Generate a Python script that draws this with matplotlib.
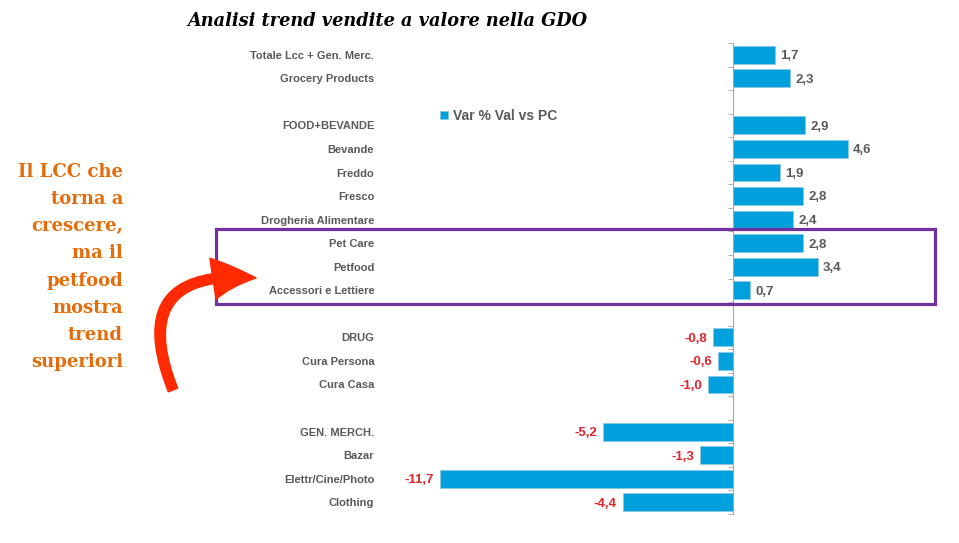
import matplotlib
matplotlib.use("Agg")
import matplotlib.pyplot as plt
import numpy as np
from matplotlib.patches import Rectangle, FancyArrowPatch

categories = ["Totale Lcc + Gen. Merc.", "Grocery Products", "",
              "FOOD+BEVANDE", "Bevande", "Freddo", "Fresco",
              "Drogheria Alimentare", "Pet Care", "Petfood",
              "Accessori e Lettiere", "",
              "DRUG", "Cura Persona", "Cura Casa", "",
              "GEN. MERCH.", "Bazar", "Elettr/Cine/Photo", "Clothing"]
var_val = [1.7, 2.3, np.nan, 2.9, 4.6, 1.9, 2.8, 2.4, 2.8, 3.4, 0.7, np.nan,
           -0.8, -0.6, -1.0, np.nan, -5.2, -1.3, -11.7, -4.4]
series_name = "Var % Val vs PC"
title = "Analisi trend vendite a valore nella GDO"
note = "Il LCC che\ntorna a\ncrescere,\nma il\npetfood\nmostra\ntrend\nsuperiori"

BLUE = "#00A0DC"
GREY = "#595959"
RED = "#E0252B"
ORANGE = "#E46C0A"
PURPLE = "#7030A0"

plt.rcParams['font.family'] = ['Liberation Sans', 'DejaVu Sans']

W, H = 959, 543
fig = plt.figure(figsize=(W / 100, H / 100), dpi=100)
ax = fig.add_axes([420 / W, 1 - 514 / H, 520 / W, 471 / H])

pos = np.arange(len(categories))
vals = np.array(var_val, dtype=float)
ax.barh(pos, vals, height=0.76, color=BLUE, edgecolor="#8FC6E0", linewidth=0.5,
        label=series_name, zorder=2)

for p, v in zip(pos, vals):
    if np.isnan(v):
        continue
    txt = f"{v:.1f}".replace(".", ",")
    if v >= 0:
        ax.annotate(txt, (v, p + 0.06), xytext=(4, 0), textcoords="offset points",
                    ha="left", va="center", fontsize=9.5, fontweight="bold", color=GREY)
    else:
        ax.annotate(txt, (v, p + 0.06), xytext=(-4, 0), textcoords="offset points",
                    ha="right", va="center", fontsize=9.5, fontweight="bold", color=RED)

ax.set_xlim(-12.5, 8.3)
ax.set_ylim(len(categories) - 0.5, -0.5)
for s in ["top", "right", "bottom"]:
    ax.spines[s].set_visible(False)
ax.spines["left"].set_position(("data", 0))
ax.spines["left"].set_color("#A6A6A6")
ax.spines["left"].set_zorder(3)
ax.set_xticks([])
ax.set_yticks(pos, categories)
ax.set_yticks(np.arange(-0.5, len(categories), 1), minor=True)
ax.tick_params(axis="y", which="major", length=0, pad=258, labelsize=8,
               labelcolor=GREY)
for lbl in ax.get_yticklabels():
    lbl.set_fontweight("bold")
ax.tick_params(axis="y", which="minor", length=3.5, color="#A6A6A6", direction="out")

fig.legend(loc="center left", bbox_to_anchor=(433 / W, 1 - 116 / H), frameon=False,
           handlelength=0.55, handleheight=0.55, handletextpad=0.4, borderpad=0,
           prop={"size": 10, "weight": "bold"}, labelcolor=GREY)

fig.text(187 / W, 1 - 21 / H, title, ha="left", va="center", fontsize=12.8,
         fontweight="heavy", fontstyle="italic", family="DejaVu Serif", color="black")

fig.text(123 / W, 1 - 267 / H, note, ha="right", va="center", fontsize=13,
         fontweight="bold", family="DejaVu Serif", color=ORANGE, linespacing=1.66,
         multialignment="right")

fig.patches.append(Rectangle((216 / W, 1 - 304 / H), 719 / W, 75 / H,
                             transform=fig.transFigure, fill=False,
                             edgecolor=PURPLE, linewidth=2.3))

arrow = FancyArrowPatch((173 / W, 1 - 390 / H), (256 / W, 1 - 278 / H),
                        transform=fig.transFigure,
                        connectionstyle="arc3,rad=-0.8",
                        arrowstyle="simple,head_length=3.1,head_width=3.0,tail_width=0.72",
                        mutation_scale=10, color="#FF2A00", shrinkA=0, shrinkB=0)
fig.patches.append(arrow)

fig.savefig("out.png", dpi=100, facecolor="white")
